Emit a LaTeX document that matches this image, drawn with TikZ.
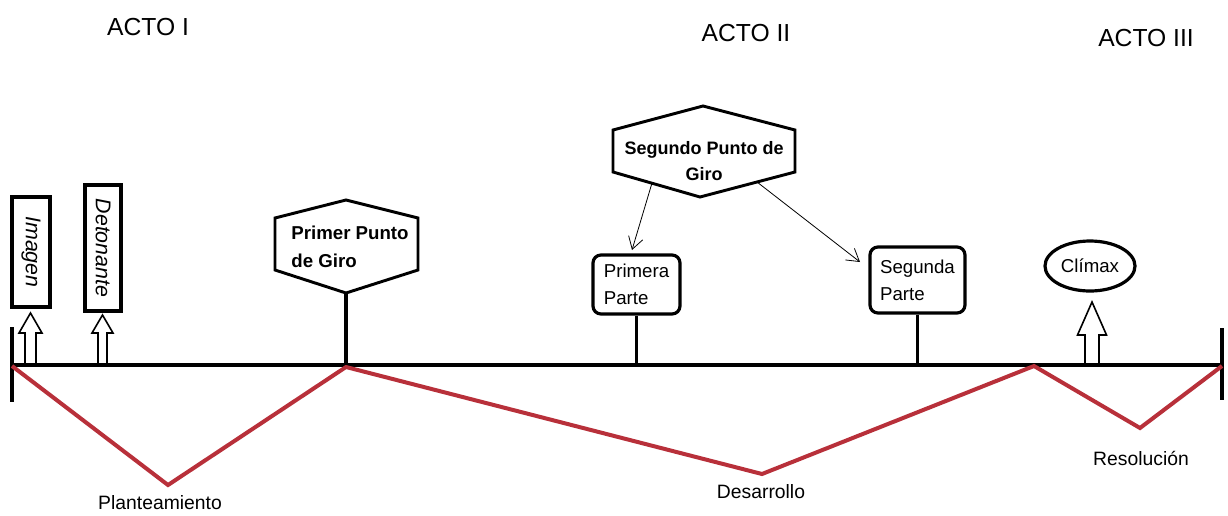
\documentclass[tikz,border=0pt]{standalone}
\usepackage{fontspec}
\setmainfont{Liberation Sans}
\usetikzlibrary{arrows.meta}
\usetikzlibrary{shapes.geometric}
\definecolor{trazorojo}{RGB}{184,48,58}

% hollow block arrow standing on the axis: x, tip y, head base y, shaft half width, head half width
\newcommand{\flechahueca}[5]{%
  \draw[flecha] (#1-#4,365) -- (#1-#4,#3) -- (#1-#5,#3) -- (#1,#2) -- (#1+#5,#3) -- (#1+#4,#3) -- (#1+#4,365);}

\begin{document}
\begin{tikzpicture}[x=0.75pt,y=0.75pt,yscale=-1,xscale=1,
  caja/.style={draw, line width=2.5pt, inner sep=0pt},
  cajav/.style={caja, rotate=-90, font=\fontsize{16}{19}\selectfont\itshape},
  parte/.style={draw, line width=2.4pt, rounded corners=6pt, inner sep=0pt, align=left, font=\fontsize{14}{20}\selectfont},
  hexa/.style={line width=2.2pt, line join=miter},
  giro/.style={inner sep=0.75pt, font=\fontsize{14}{21}\selectfont\bfseries},
  etiqueta/.style={inner sep=0.75pt, font=\fontsize{14.5}{18}\selectfont},
  acto/.style={inner sep=0.75pt, font=\fontsize{18.5}{22}\selectfont},
  eje/.style={line width=2.5pt},
  trama/.style={draw=trazorojo, line width=3pt, line join=miter},
  flecha/.style={line width=1.2pt, line join=miter},
  enlace/.style={line width=0.6pt, -{Straight Barb[length=9pt,width=11pt]}}]
\useasboundingbox (0,0) rectangle (1228,515);

%Axis and ticks
\coordinate (ejeA) at (10,365);
\coordinate (ejeB) at (1224,365);
\draw[eje] (ejeA) -- (ejeB);
\draw[eje] (12,327) -- (12,402);
\draw[eje] (1222,328) -- (1222,400);

%Red plot line
\coordinate (v0) at (12,366);
\coordinate (v1) at (168,485);
\coordinate (v2) at (346,367);
\coordinate (v3) at (762,474);
\coordinate (v4) at (1034,366);
\coordinate (v5) at (1140,428);
\coordinate (v6) at (1222,366);
\draw[trama] (v0) -- (v1) -- (v2) -- (v3) -- (v4) -- (v5) -- (v6);

%Vertical boxes
\node[cajav, minimum width=82.5pt, minimum height=28.5pt] (imagen) at (31,252) {Imagen};
\node[cajav, minimum width=94.5pt, minimum height=27pt] (detonante) at (103,248) {Detonante};
\flechahueca{30.5}{313}{333}{5.5}{11.5}
\flechahueca{102.5}{315}{333}{4.5}{10.5}

%Shape: Hexagon
\draw[hexa] (275,218) -- (346,200) -- (418,218) -- (418,270) -- (346,293) -- (275,270) -- cycle;
\coordinate (pgiro) at (346,293);
% Text Node
\node[giro, align=left] (primer) at (350,247) {Primer Punto\\de Giro};
\draw[eje] (pgiro) -- (pgiro |- ejeA);

%Shape: Hexagon
\draw[hexa] (613,130) -- (703,106) -- (795,130) -- (795,172) -- (700,197) -- (613,172) -- cycle;
% Text Node
\node[giro, align=center, font=\fontsize{13.5}{20}\selectfont\bfseries] (segundo) at (704,161) {Segundo Punto de\\Giro};

%Rounded boxes
\node[parte, minimum width=65.25pt, minimum height=44.25pt] (primera) at (636.5,284.5) {Primera\\Parte};
\node[parte, minimum width=71.25pt, minimum height=49.5pt] (segunda) at (917.5,280) {Segunda\\Parte};
\draw[eje] (primera.south) -- (primera.south |- ejeA);
\draw[eje] (segunda.south) -- (segunda.south |- ejeA);

%Thin arrows
\coordinate (s1) at (652,183);
\coordinate (s2) at (757,182);
\coordinate (f1) at (632,250);
\coordinate (f2) at (860,262);
\draw[enlace] (s1) -- (f1);
\draw[enlace] (s2) -- (f2);

%Climax
\node[ellipse, draw, line width=2.4pt, minimum width=67.5pt, minimum height=37.5pt, inner sep=0pt, font=\fontsize{14}{17}\selectfont] (climax) at (1090,266) {Clímax};
\flechahueca{1092}{302}{335}{7}{14.5}

% Text Node
\node[acto] (actoI) at (148,27) {ACTO I};
\node[acto] (actoII) at (746,33) {ACTO II};
\node[acto] (actoIII) at (1146,38) {ACTO III};
\node[etiqueta] (plant) at (160,503) {Planteamiento};
\node[etiqueta] (desarr) at (761,492) {Desarrollo};
\node[etiqueta] (resol) at (1141,458) {Resolución};

\end{tikzpicture}
\end{document}
